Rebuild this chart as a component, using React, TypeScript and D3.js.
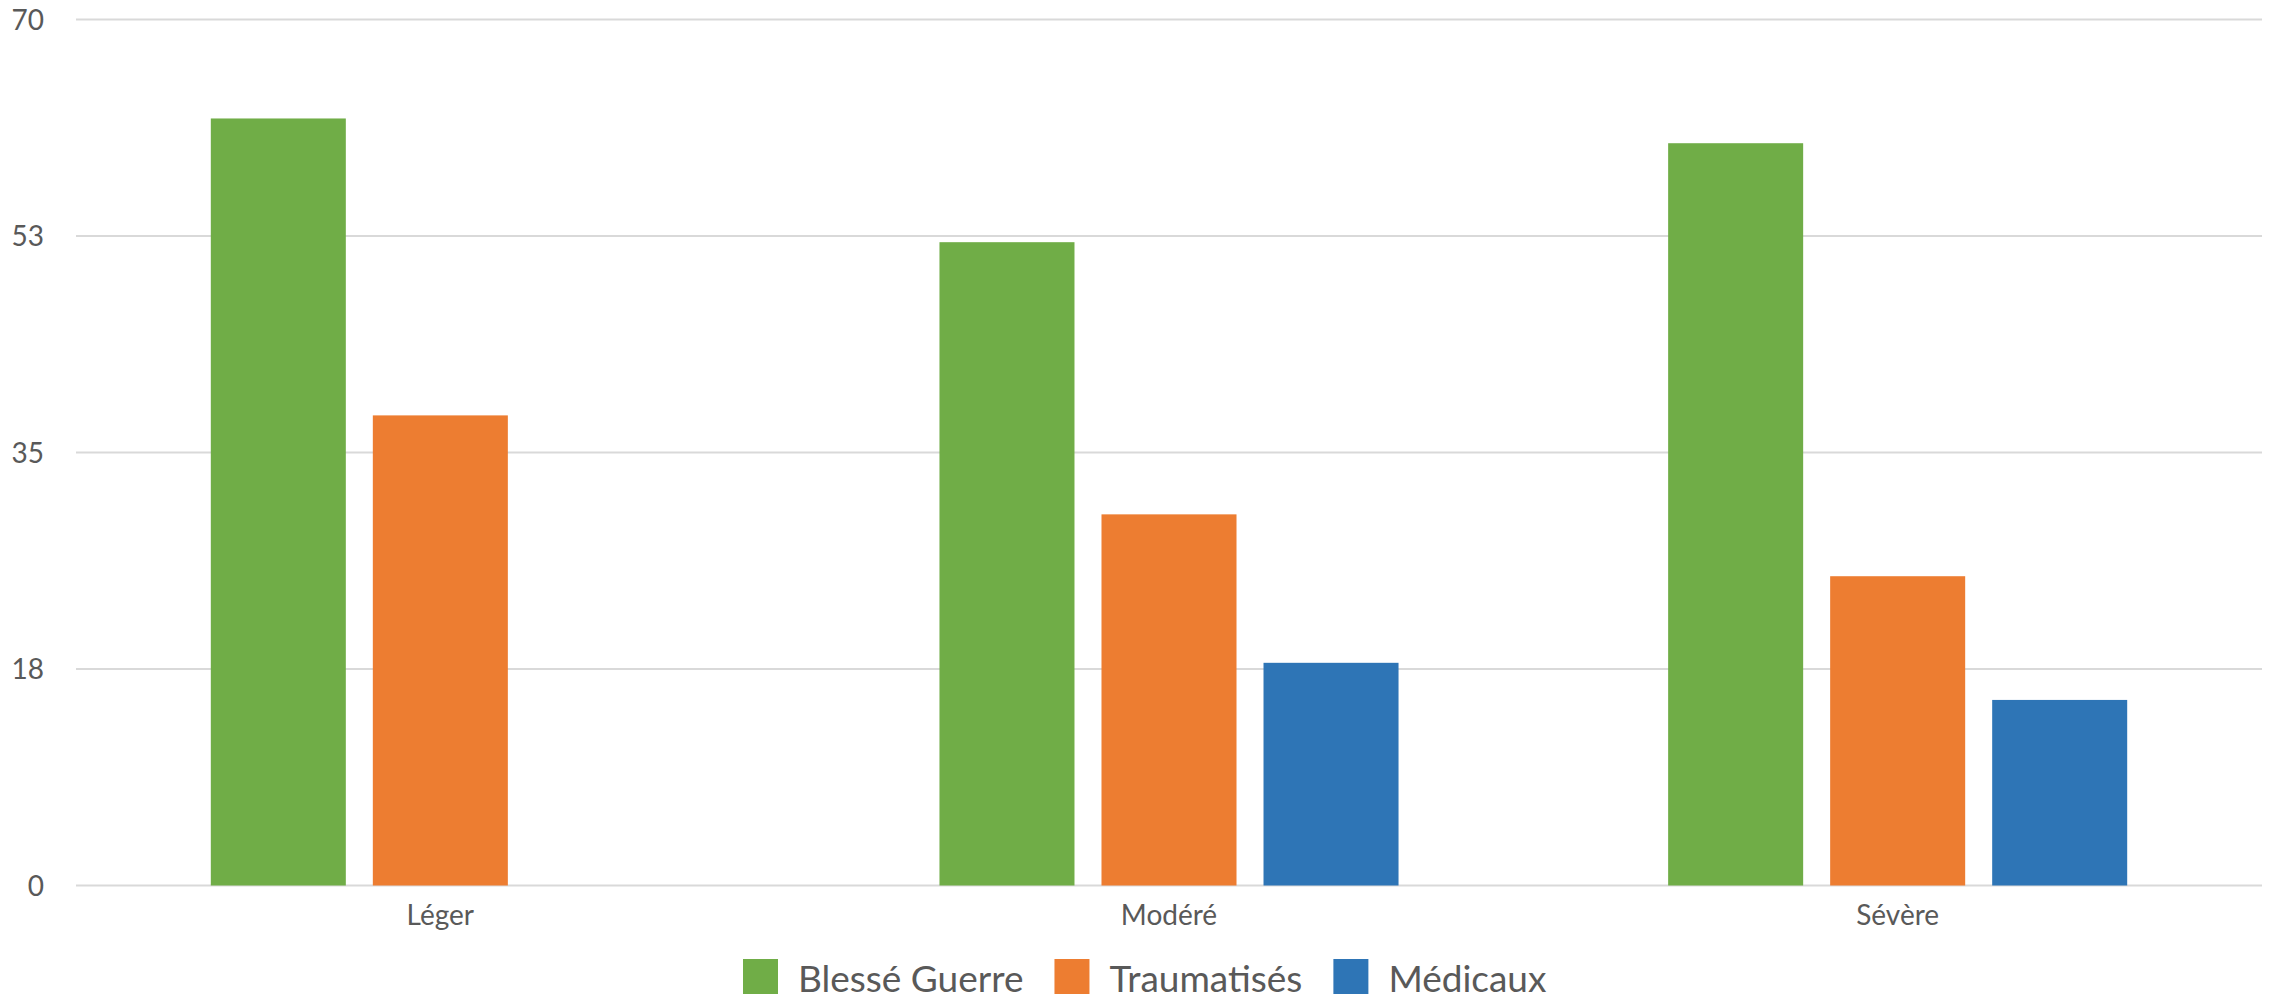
import React, { useEffect, useRef } from "react";
import * as d3 from "d3";

const categories = ["Léger", "Modéré", "Sévère"];
const seriesNames = ["Blessé Guerre", "Traumatisés", "Médicaux"];
const blesseGuerre = [62, 52, 60];
const traumatises = [38, 30, 25];
const medicaux = [0, 18, 15];
const tickValues = [0, 17.5, 35, 52.5, 70];
const tickLabels = ["0", "18", "35", "53", "70"];
const colors = ["#70AD47", "#ED7D31", "#2E75B6"];

const W = 2272;
const H = 999;
const M = { left: 76, right: 10, top: 19.5, bottom: 113.5 };

export default function App() {
  const ref = useRef<SVGSVGElement | null>(null);

  useEffect(() => {
    const svg = d3.select(ref.current);
    svg.selectAll("*").remove();
    const font = "Lato, 'Open Sans', sans-serif";
    const textColor = "#595959";

    const seriesValues = [blesseGuerre, traumatises, medicaux];
    const y = d3.scaleLinear().domain([0, 70]).range([H - M.bottom, M.top]);
    const x0 = d3.scaleBand<string>().domain(categories).range([M.left, W - M.right]).padding(0);
    const bw = x0.bandwidth();
    const outer = bw * 0.185;
    const x1 = d3
      .scaleBand<string>()
      .domain(seriesNames)
      .range([outer, bw - outer])
      .paddingInner(1 / 6)
      .paddingOuter(0);

    // gridlines
    const g = svg.append("g");
    g.selectAll("line.grid")
      .data(tickValues)
      .join("line")
      .attr("x1", M.left)
      .attr("x2", W - M.right)
      .attr("y1", (d) => y(d))
      .attr("y2", (d) => y(d))
      .attr("stroke", "#d9d9d9")
      .attr("stroke-width", 2);

    // y labels
    g.selectAll("text.yl")
      .data(tickValues)
      .join("text")
      .attr("x", 44)
      .attr("y", (d) => y(d))
      .attr("dy", "0.36em")
      .attr("text-anchor", "end")
      .attr("font-family", font)
      .attr("font-size", 28)
      .attr("fill", textColor)
      .text((d, i) => tickLabels[i]);

    // bars
    categories.forEach((cat, ci) => {
      seriesNames.forEach((s, si) => {
        const v = seriesValues[si][ci];
        if (!v) return;
        svg
          .append("rect")
          .attr("x", (x0(cat) as number) + (x1(s) as number))
          .attr("y", y(v))
          .attr("width", x1.bandwidth())
          .attr("height", y(0) - y(v))
          .attr("fill", colors[si]);
      });
    });

    // x labels
    svg
      .selectAll("text.xl")
      .data(categories)
      .join("text")
      .attr("x", (d) => (x0(d) as number) + bw / 2)
      .attr("y", 925)
      .attr("text-anchor", "middle")
      .attr("font-family", font)
      .attr("font-size", 28)
      .attr("fill", textColor)
      .text((d) => d);

    // legend
    let lx = 743;
    const sq = 35;
    seriesNames.forEach((s, si) => {
      svg
        .append("rect")
        .attr("x", lx)
        .attr("y", 959)
        .attr("width", sq)
        .attr("height", sq)
        .attr("fill", colors[si]);
      const t = svg
        .append("text")
        .attr("x", lx + sq + 20)
        .attr("y", 992)
        .attr("font-family", font)
        .attr("font-size", 37)
        .attr("fill", textColor)
        .text(s);
      const tw = (t.node() as SVGTextElement).getComputedTextLength();
      lx = lx + sq + 20 + tw + 31;
    });
  }, []);

  return (
    <svg
      ref={ref}
      width={W}
      height={H}
      style={{ position: "absolute", left: 0, top: 0, background: "#fff" }}
    />
  );
}
